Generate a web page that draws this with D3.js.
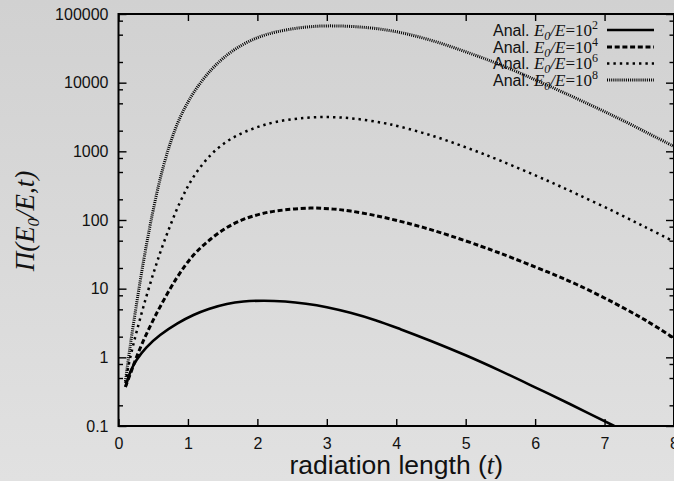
<!DOCTYPE html>
<html>
<head>
<meta charset="utf-8">
<script src="https://cdn.jsdelivr.net/npm/d3@7"></script>
<style>
  body { margin: 0; }
  svg { display: block; }
  .tick text { font-family: "Liberation Sans", Arial, sans-serif; font-size: 16px; fill: #111; }
</style>
</head>
<body>
<svg id="chart" width="674" height="481"></svg>
<script>
// values, t (radiation length) vs Pi(E0/E,t)
const t_e2   = [0.1, 0.18, 0.26, 0.4, 0.6, 0.85, 1.08, 1.3, 1.56, 1.8, 2.09, 2.4, 2.7, 3.0, 3.34, 3.7, 4.06, 4.5, 5.0, 5.5, 6.0, 6.5, 7.14];
const val_e2 = [0.37, 0.646, 0.916, 1.39, 2.11, 3.12, 4.13, 5.06, 5.98, 6.5, 6.68, 6.5, 6.04, 5.37, 4.45, 3.47, 2.57, 1.73, 1.07, 0.635, 0.366, 0.209, 0.1];

const t_e4   = [0.1, 0.19, 0.26, 0.36, 0.48, 0.6, 0.84, 1.08, 1.32, 1.56, 1.8, 2.04, 2.28, 2.76, 3.1, 3.34, 3.7, 4.06, 4.4, 4.78, 5.22, 5.5, 6.18, 6.6, 7.14, 7.6, 8.0];
const val_e4 = [0.37, 0.65, 1.01, 1.76, 3.18, 5.46, 14.4, 30.8, 52, 77.6, 102, 122, 136, 149, 144, 135, 116, 95.5, 77.3, 58.9, 41.5, 32.7, 17.5, 11.5, 6.17, 3.42, 1.9];

const t_e6   = [0.1, 0.14, 0.2, 0.26, 0.36, 0.5, 0.65, 0.89, 1.08, 1.32, 1.56, 1.8, 2.04, 2.28, 2.6, 3.0, 3.4, 3.8, 4.06, 4.54, 5.02, 5.5, 6.18, 6.6, 7.14, 7.6, 8.0];
const val_e6 = [0.42, 0.72, 1.35, 2.34, 5.5, 16.4, 46.3, 185, 424, 869, 1390, 1880, 2320, 2700, 3010, 3160, 2990, 2600, 2280, 1660, 1125, 731, 373, 239, 132, 77.6, 48.5];

const t_e8   = [0.1, 0.166, 0.26, 0.36, 0.45, 0.5, 0.6, 0.74, 0.89, 1.08, 1.32, 1.56, 1.8, 2.04, 2.28, 2.62, 3.0, 3.58, 4.06, 4.54, 5.02, 5.5, 6.18, 7.14, 8.0];
const val_e8 = [0.45, 1.41, 6.0, 25, 78.5, 140, 398, 1260, 3160, 7080, 14800, 25100, 36300, 46800, 55000, 63100, 67100, 63400, 53700, 40300, 27700, 18200, 9140, 3240, 1175];

const xTicks = [0, 1, 2, 3, 4, 5, 6, 7, 8];
const yTicks = [0.1, 1, 10, 100, 1000, 10000, 100000];
const yMinorMult = [2, 5, 8];
const legendExp = ["2", "4", "6", "8"];

const svg = d3.select("#chart");
const W = 674, H = 481;
const margin = { left: 118.5, right: 674, top: 14, bottom: 426 };

// background, slightly lighter towards the bottom
const grad = svg.append("defs").append("linearGradient")
  .attr("id", "bg").attr("x1", 0).attr("y1", 0).attr("x2", 0).attr("y2", 1);
grad.append("stop").attr("offset", "0%").attr("stop-color", "#d1d1d1");
grad.append("stop").attr("offset", "100%").attr("stop-color", "#e1e1e1");
svg.append("rect").attr("width", W).attr("height", H).attr("fill", "url(#bg)");

const x = d3.scaleLinear().domain([0, 8]).range([margin.left, margin.right]);
const y = d3.scaleLog().domain([0.1, 100000]).range([margin.bottom, margin.top]);

// minor y ticks at 2, 5, 8 per decade
const yMinor = [];
yTicks.slice(0, -1).forEach(d => yMinorMult.forEach(m => yMinor.push(d * m)));

function styleAxis(g) {
  g.select(".domain").remove();
  g.selectAll(".tick line").attr("stroke", "#000").attr("stroke-width", 1.4);
}

// left axis
svg.append("g").attr("transform", `translate(${margin.left},0)`)
  .call(d3.axisLeft(y).tickValues(yTicks).tickSize(-8).tickPadding(10).tickFormat(d3.format("~g")))
  .call(styleAxis);
svg.append("g").attr("transform", `translate(${margin.left},0)`)
  .call(d3.axisLeft(y).tickValues(yMinor).tickSize(-4.5).tickFormat(""))
  .call(styleAxis);
// right axis (mirror)
svg.append("g").attr("transform", `translate(${margin.right},0)`)
  .call(d3.axisRight(y).tickValues(yTicks).tickSize(-8).tickFormat(""))
  .call(styleAxis);
svg.append("g").attr("transform", `translate(${margin.right},0)`)
  .call(d3.axisRight(y).tickValues(yMinor).tickSize(-4.5).tickFormat(""))
  .call(styleAxis);
// bottom axis
svg.append("g").attr("transform", `translate(0,${margin.bottom})`)
  .call(d3.axisBottom(x).tickValues(xTicks).tickSize(-7).tickPadding(12).tickFormat(d3.format("d")))
  .call(styleAxis);
// top axis (mirror)
svg.append("g").attr("transform", `translate(0,${margin.top})`)
  .call(d3.axisTop(x).tickValues(xTicks).tickSize(-7).tickFormat(""))
  .call(styleAxis);

// frame
svg.append("rect")
  .attr("x", margin.left).attr("y", margin.top)
  .attr("width", margin.right - margin.left).attr("height", margin.bottom - margin.top)
  .attr("fill", "none").attr("stroke", "#000").attr("stroke-width", 2);

svg.append("clipPath").attr("id", "plot").append("rect")
  .attr("x", margin.left).attr("y", margin.top)
  .attr("width", margin.right - margin.left).attr("height", margin.bottom - margin.top);

const series = [
  { t: t_e2, v: val_e2, width: 2.6, dash: null },
  { t: t_e4, v: val_e4, width: 3, dash: "5,2.7" },
  { t: t_e6, v: val_e6, width: 2.5, dash: "2.4,4" },
  { t: t_e8, v: val_e8, width: 3, dash: "1,1.1" }
];

const line = d3.line()
  .x(d => x(d[0]))
  .y(d => y(d[1]))
  .curve(d3.curveCatmullRom.alpha(0.5));

const curves = svg.append("g").attr("clip-path", "url(#plot)");
series.forEach(s => {
  curves.append("path")
    .datum(s.t.map((t, i) => [t, s.v[i]]))
    .attr("d", line)
    .attr("fill", "none")
    .attr("stroke", "#000")
    .attr("stroke-width", s.width)
    .attr("stroke-dasharray", s.dash);
});

// legend
const legendRows = [30, 47, 63.5, 80];
series.forEach((s, i) => {
  const ly = legendRows[i];
  const txt = svg.append("text")
    .attr("x", 598).attr("y", ly + 5.5)
    .attr("text-anchor", "end")
    .attr("fill", "#111");
  txt.append("tspan").attr("font-family", "Liberation Sans, Arial, sans-serif").attr("font-size", 16).text("Anal. ");
  const serif = "Liberation Serif, Times New Roman, serif";
  txt.append("tspan").attr("font-family", serif).attr("font-style", "italic").attr("font-size", 17).text("E");
  txt.append("tspan").attr("font-family", serif).attr("font-style", "italic").attr("font-size", 12).attr("dy", 4).text("0");
  txt.append("tspan").attr("font-family", serif).attr("font-style", "italic").attr("font-size", 17).attr("dy", -4).text("/E");
  txt.append("tspan").attr("font-family", serif).attr("font-size", 17).text("=10");
  txt.append("tspan").attr("font-family", serif).attr("font-size", 12).attr("dy", -7).text(legendExp[i]);

  svg.append("line")
    .attr("x1", 607).attr("x2", 654).attr("y1", ly).attr("y2", ly)
    .attr("stroke", "#000")
    .attr("stroke-width", s.width)
    .attr("stroke-dasharray", s.dash);
});

// axis titles
const xl = svg.append("text")
  .attr("x", (margin.left + margin.right) / 2).attr("y", 474)
  .attr("text-anchor", "middle")
  .attr("font-family", "Liberation Sans, Arial, sans-serif")
  .attr("font-size", 26.5).attr("fill", "#111");
xl.append("tspan").text("radiation length (");
xl.append("tspan").attr("font-family", "Liberation Serif, Times New Roman, serif").attr("font-style", "italic").text("t");
xl.append("tspan").text(")");

const yl = svg.append("text")
  .attr("transform", `translate(34,221) rotate(-90)`)
  .attr("text-anchor", "middle")
  .attr("font-family", "Liberation Serif, Times New Roman, serif")
  .attr("font-style", "italic")
  .attr("font-size", 27).attr("fill", "#111");
yl.append("tspan").text("Π(E");
yl.append("tspan").attr("font-size", 17).attr("dy", 5).text("0");
yl.append("tspan").attr("dy", -5).text("/E,t)");
</script>
</body>
</html>
